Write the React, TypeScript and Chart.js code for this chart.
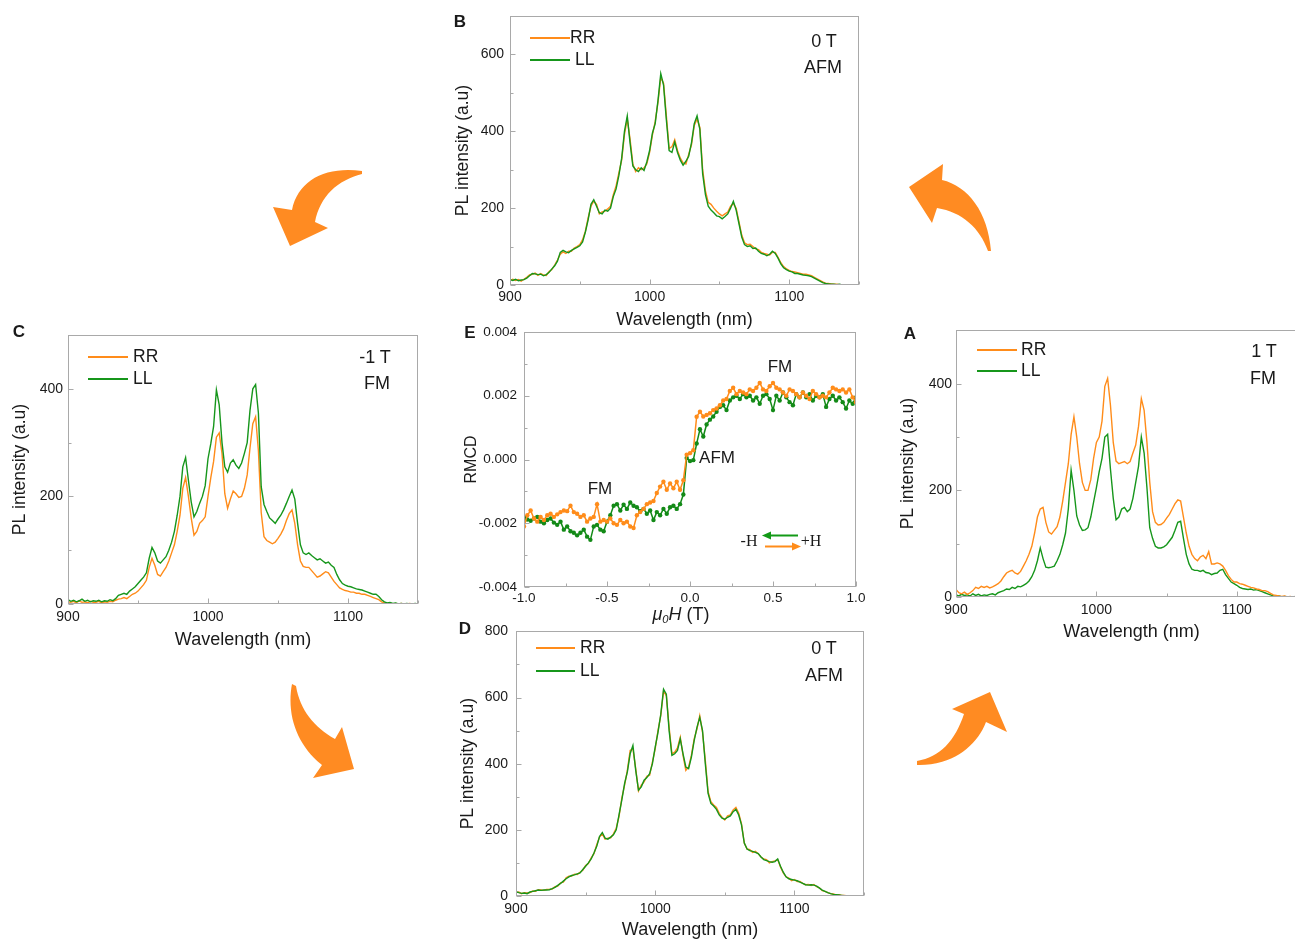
import React, { useEffect, useRef } from 'react';
import { Chart, registerables } from 'chart.js';

Chart.register(...registerables);

const FONT = '"Liberation Sans", Arial, Helvetica, sans-serif';
const SERIF = '"Liberation Serif", "Times New Roman", serif';
const ORANGE = '#ff8c1a';
const GREEN = '#16961b';
const ARROW_ORANGE = '#ff8b22';
const FRAME = '#a9a9a9';
const TEXT = '#1a1a1a';

// ---------- data ----------
const WAVELENGTH_NM = [
  900, 902, 904, 906, 908, 910, 912, 914, 916, 918,
  920, 922, 924, 926, 928, 930, 932, 934, 936, 938,
  940, 942, 944, 946, 948, 950, 952, 954, 956, 958,
  960, 962, 964, 966, 968, 970, 972, 974, 976, 978,
  980, 982, 984, 986, 988, 990, 992, 994, 996, 998,
  1000, 1002, 1004, 1006, 1008, 1010, 1012, 1014, 1016, 1018,
  1020, 1022, 1024, 1026, 1028, 1030, 1032, 1034, 1036, 1038,
  1040, 1042, 1044, 1046, 1048, 1050, 1052, 1054, 1056, 1058,
  1060, 1062, 1064, 1066, 1068, 1070, 1072, 1074, 1076, 1078,
  1080, 1082, 1084, 1086, 1088, 1090, 1092, 1094, 1096, 1098,
  1100, 1102, 1104, 1106, 1108, 1110, 1112, 1114, 1116, 1118,
  1120, 1122, 1124, 1126, 1128, 1130, 1132, 1134, 1136, 1138,
  1140, 1142, 1144, 1146, 1148, 1150,
];

// Panel B: 0 T, AFM
const B_RR = [
  12, 15, 12, 14, 10, 15, 20, 26, 28, 31,
  25, 30, 26, 25, 35, 40, 52, 65, 80, 86,
  82, 88, 88, 96, 100, 105, 118, 140, 175, 205,
  218, 210, 185, 190, 192, 198, 205, 235, 258, 292,
  325, 392, 432, 380, 315, 295, 305, 300, 305, 315,
  345, 390, 425, 475, 540, 525, 440, 355, 360, 378,
  350, 330, 318, 315, 340, 365, 415, 432, 410, 300,
  245, 215, 210, 200, 192, 185, 180, 185, 190, 205,
  212, 200, 165, 130, 110, 105, 106, 100, 94, 92,
  85, 82, 80, 78, 85, 85, 72, 58, 48, 42,
  38, 35, 34, 32, 30, 28, 28, 26, 24, 20,
  16, 12, 8, 5, 4, 3, 2, 2, 1, 1,
  0, 1, 0, 0, 1, 0,
];
const B_LL = [
  14, 12, 15, 11, 13, 14, 18, 24, 30, 29,
  27, 28, 24, 27, 33, 42, 50, 62, 85, 90,
  86, 84, 90, 94, 98, 102, 112, 138, 170, 210,
  222, 205, 188, 185, 195, 192, 200, 230, 250, 285,
  330, 400, 440, 370, 310, 300, 295, 305, 298, 320,
  350, 395, 420, 480, 550, 520, 430, 350, 345, 372,
  345, 325, 312, 322, 335, 370, 420, 440, 405, 290,
  235, 205, 195, 188, 180, 178, 172, 178, 185, 200,
  218, 195, 160, 125, 105, 100, 102, 95, 96, 88,
  82, 80, 76, 80, 88, 82, 70, 55, 45, 40,
  36, 34, 30, 30, 28, 26, 25, 24, 22, 18,
  14, 10, 6, 4, 3, 2, 2, 1, 2, 0,
  1, 0, 1, 0, 0, 0,
];

// Panel C: -1 T, FM
const C_RR = [
  4, 3, 5, 2, 6, 3, 4, 2, 5, 3,
  3, 5, 2, 4, 3, 5, 4, 7, 9, 10,
  12, 10, 14, 18, 20, 24, 30, 36, 44, 68,
  85, 72, 55, 52, 60, 68, 80, 95, 110, 135,
  165, 215, 235, 200, 160, 128, 135, 150, 155, 162,
  200, 235, 265, 310, 318, 280, 205, 178, 195, 210,
  205, 198, 200, 215, 240, 290, 335, 348, 285, 170,
  125, 118, 115, 112, 115, 122, 130, 140, 155, 168,
  175, 150, 110, 80, 70, 68, 68, 62, 56, 50,
  52, 56, 60, 58, 50, 42, 36, 30, 27, 25,
  24, 22, 22, 20, 20, 18, 18, 16, 14, 12,
  10, 8, 4, 2, 1, 2, 0, 1, 0, 1,
  0, 0, 1, 0, 0, 0,
];
const C_LL = [
  8, 5, 7, 4, 6, 9, 5, 7, 4, 6,
  5, 7, 4, 6, 5, 8, 6, 10, 16, 18,
  20, 18, 24, 28, 32, 38, 44, 50, 58, 85,
  105, 95, 80, 76, 82, 88, 100, 115, 135, 165,
  200, 255, 272, 230, 190, 162, 172, 187, 200, 220,
  270, 298, 330, 398, 370, 300, 255, 245, 262, 268,
  258, 252, 262, 280, 300, 360, 400, 408, 355, 218,
  185, 172, 160, 155, 150, 158, 165, 175, 187, 200,
  212, 195, 150, 110, 95, 92, 95, 90, 86, 82,
  84, 80, 76, 78, 72, 68, 55, 45, 38, 35,
  33, 32, 30, 28, 27, 26, 24, 22, 20, 18,
  18, 14, 8, 4, 2, 3, 1, 2, 0, 1,
  0, 1, 0, 0, 1, 0,
];

// Panel A: 1 T, FM
const A_RR = [
  14, 8, 6, 9, 5, 8, 12, 18, 16, 20,
  18, 20, 17, 19, 22, 25, 30, 38, 45, 48,
  50, 45, 43, 48, 58, 68, 80, 95, 120, 150,
  165, 168, 140, 122, 118, 125, 132, 150, 180, 215,
  250, 305, 338, 300, 250, 215, 200, 200, 220, 260,
  290, 300, 330, 395, 410, 360, 290, 255, 250, 252,
  254, 250, 254, 270, 285, 320, 372, 350, 290, 215,
  160, 140, 135, 136, 140, 148, 155, 165, 175, 182,
  180, 150, 120, 95, 80, 72, 68, 75, 78, 72,
  85, 62, 62, 64, 62, 58, 50, 40, 33, 28,
  28, 25, 24, 22, 20, 18, 17, 15, 14, 12,
  12, 10, 7, 4, 3, 2, 1, 2, 0, 1,
  0, 1, 0, 0, 0, 0,
];
const A_LL = [
  4, 2, 5, 3, 4, 2, 6, 3, 5, 2,
  4, 3, 5, 6, 4, 8, 10, 12, 15, 14,
  18, 16, 20, 19, 22, 25, 30, 38, 50, 68,
  92, 72, 56, 55, 56, 58, 68, 80, 98, 120,
  165, 238, 200, 152, 135, 125, 126, 130, 150, 178,
  205, 235, 260, 300, 305, 240, 185, 145, 150, 165,
  168, 160, 165, 185, 215, 245, 300, 270, 205, 130,
  110, 95, 92, 92, 94, 98, 105, 112, 125, 140,
  142, 110, 80, 62, 52, 50, 50, 48, 50, 46,
  45, 42, 44, 45, 50, 52, 42, 35, 28, 25,
  22, 18, 16, 15, 14, 15, 13, 14, 12, 10,
  8, 6, 4, 2, 1, 2, 0, 1, 0, 0,
  0, 1, 0, 0, 0, 0,
];

// Panel D: 0 T, AFM
const D_RR = [
  10, 12, 7, 10, 9, 10, 15, 14, 19, 18,
  17, 20, 20, 21, 28, 30, 40, 42, 55, 60,
  60, 66, 65, 72, 78, 92, 98, 115, 128, 155,
  178, 188, 172, 175, 176, 188, 205, 240, 295, 335,
  380, 440, 445, 385, 318, 335, 345, 362, 365, 405,
  445, 500, 545, 620, 605, 510, 430, 435, 448, 480,
  425, 380, 390, 425, 475, 505, 545, 495, 410, 315,
  285, 275, 268, 250, 238, 230, 242, 245, 260, 268,
  250, 218, 160, 142, 140, 132, 135, 128, 118, 112,
  110, 100, 104, 106, 110, 88, 70, 58, 54, 46,
  50, 44, 44, 38, 34, 35, 32, 35, 28, 25,
  16, 14, 10, 7, 6, 3, 4, 2, 2, 0,
  0, 1, 0, 0, 0, 0,
];
const D_LL = [
  13, 10, 8, 9, 7, 12, 14, 16, 18, 17,
  18, 18, 19, 22, 26, 32, 38, 45, 52, 58,
  62, 64, 67, 70, 80, 90, 100, 112, 130, 150,
  180, 192, 175, 172, 178, 185, 200, 245, 290, 340,
  375, 430, 455, 380, 320, 330, 350, 358, 370, 400,
  450, 495, 549, 625, 610, 500, 425, 430, 440, 475,
  430, 390, 385, 420, 470, 510, 540, 500, 400, 310,
  280, 272, 262, 245, 235, 232, 238, 242, 255, 262,
  245, 215, 160, 142, 137, 135, 132, 128, 118, 110,
  107, 104, 102, 104, 112, 90, 72, 58, 52, 50,
  48, 46, 42, 38, 34, 33, 34, 33, 30, 24,
  18, 14, 10, 7, 5, 4, 3, 2, 1, 1,
  1, 0, 0, 1, 0, 0,
];

// Panel E: RMCD vs field
const RMCD_FIELD_T = [
  -1.0, -0.98, -0.96, -0.94, -0.92, -0.9, -0.88, -0.86, -0.84, -0.82,
  -0.8, -0.78, -0.76, -0.74, -0.72, -0.7, -0.68, -0.66, -0.64, -0.62,
  -0.6, -0.58, -0.56, -0.54, -0.52, -0.5, -0.48, -0.46, -0.44, -0.42,
  -0.4, -0.38, -0.36, -0.34, -0.32, -0.3, -0.28, -0.26, -0.24, -0.22,
  -0.2, -0.18, -0.16, -0.14, -0.12, -0.1, -0.08, -0.06, -0.04, -0.02,
  0.0, 0.02, 0.04, 0.06, 0.08, 0.1, 0.12, 0.14, 0.16, 0.18,
  0.2, 0.22, 0.24, 0.26, 0.28, 0.3, 0.32, 0.34, 0.36, 0.38,
  0.4, 0.42, 0.44, 0.46, 0.48, 0.5, 0.52, 0.54, 0.56, 0.58,
  0.6, 0.62, 0.64, 0.66, 0.68, 0.7, 0.72, 0.74, 0.76, 0.78,
  0.8, 0.82, 0.84, 0.86, 0.88, 0.9, 0.92, 0.94, 0.96, 0.98,
  1.0,
];
const RMCD_SWEEP_DOWN = [
  -0.0018, -0.00188, -0.00192, -0.00185, -0.0018, -0.00195, -0.002, -0.0019, -0.00185, -0.00198,
  -0.00205, -0.00195, -0.0022, -0.0021, -0.00225, -0.0023, -0.00238, -0.0023, -0.0022, -0.00242,
  -0.00252, -0.0021, -0.00205, -0.0022, -0.00225, -0.00195, -0.00175, -0.00145, -0.0014, -0.0016,
  -0.00142, -0.00155, -0.00135, -0.00145, -0.0015, -0.00162, -0.00155, -0.0017, -0.0016, -0.0019,
  -0.00165, -0.00175, -0.00155, -0.0017, -0.0015, -0.00145, -0.00155, -0.0014, -0.0011, 0.00005,
  -0.00005, -0.00002, 0.0005, 0.00095, 0.00072, 0.0011, 0.00125, 0.00135, 0.0015, 0.00165,
  0.0017, 0.00155, 0.00185, 0.00195, 0.002, 0.0019, 0.00205, 0.00195, 0.002, 0.00185,
  0.00195, 0.00175, 0.002, 0.00205, 0.0019, 0.00155, 0.002, 0.00185, 0.0021, 0.00195,
  0.0018, 0.0017, 0.00205, 0.00195, 0.0021, 0.00195, 0.00205, 0.00185, 0.002, 0.00195,
  0.00205, 0.00165, 0.0019, 0.002, 0.00185, 0.00195, 0.0018, 0.0016, 0.00185, 0.00175,
  0.00195,
];
const RMCD_SWEEP_UP = [
  -0.0021, -0.00175, -0.0016, -0.00185, -0.00195, -0.0018, -0.0019, -0.00175, -0.0017, -0.0018,
  -0.00172, -0.00165, -0.0016, -0.00162, -0.00145, -0.00165, -0.0017, -0.0018, -0.00175, -0.00195,
  -0.00185, -0.0018, -0.0014, -0.00195, -0.0019, -0.00195, -0.00185, -0.002, -0.00205, -0.0019,
  -0.002, -0.00195, -0.0021, -0.00215, -0.00175, -0.00165, -0.00155, -0.0014, -0.00135, -0.0013,
  -0.00105, -0.00085, -0.0007, -0.00095, -0.00075, -0.0009, -0.0007, -0.00095, -0.00065, 0.00015,
  0.0002, 0.00029, 0.00134, 0.0015, 0.00135, 0.0014, 0.00145, 0.00155, 0.0016, 0.0017,
  0.00185, 0.0019, 0.00215, 0.00225, 0.00205, 0.00215, 0.0021, 0.00205, 0.0022, 0.00215,
  0.00225, 0.0024, 0.0022, 0.00215, 0.0023, 0.0024, 0.00225, 0.0022, 0.0021, 0.002,
  0.0022, 0.00215, 0.00205, 0.00195, 0.0021, 0.002, 0.0019, 0.00215, 0.00205, 0.00195,
  0.002, 0.00195, 0.0021, 0.00225, 0.0022, 0.00215, 0.0022, 0.0021, 0.0022, 0.00195,
  0.0018,
];

// ---------- tick labels ----------
const WL_TICK_LABELS = [900, 1000, 1100];
const PL_TICK_LABELS_B = [0, 200, 400, 600];
const PL_TICK_LABELS_CA = [0, 200, 400];
const PL_TICK_LABELS_D = [0, 200, 400, 600, 800];
const FIELD_TICK_LABELS = [-1.0, -0.5, 0.0, 0.5, 1.0];
const RMCD_TICK_LABELS = [-0.004, -0.002, 0.0, 0.002, 0.004];

// ---------- frame + inward ticks ----------
const framePlugin = {
  id: 'frameTicks',
  afterDraw(chart: any) {
    const { ctx, chartArea } = chart;
    const l = Math.round(chartArea.left) + 0.5;
    const t = Math.round(chartArea.top) + 0.5;
    const r = Math.round(chartArea.right) - 0.5;
    const b = Math.round(chartArea.bottom) - 0.5;
    ctx.save();
    ctx.strokeStyle = FRAME;
    ctx.lineWidth = 1;
    ctx.strokeRect(l, t, r - l, b - t);
    ctx.beginPath();
    const xs = chart.scales.x;
    const ys = chart.scales.y;
    xs.ticks.forEach((tk: any) => {
      const px = Math.round(xs.getPixelForValue(tk.value)) + 0.5;
      const len = tk.label !== '' ? 5 : 3;
      ctx.moveTo(px, b);
      ctx.lineTo(px, b - len);
    });
    ys.ticks.forEach((tk: any) => {
      const py = Math.round(ys.getPixelForValue(tk.value)) + 0.5;
      const len = tk.label !== '' ? 5 : 3;
      ctx.moveTo(l, py);
      ctx.lineTo(l + len, py);
    });
    ctx.stroke();
    ctx.restore();
  },
};

type Rect = { left: number; top: number; width: number; height: number };
type Plot = { left: number; top: number; right: number; bottom: number };

type AxisOpt = {
  min: number;
  max: number;
  step: number;
  labels: number[];
  fmt: (v: number) => string;
  tickPad: number;
  title?: string;
  titleSize?: number;
  titlePad?: number;
};

type ChartOpt = {
  canvas: Rect;
  plot: Plot;
  datasets: any[];
  x: AxisOpt;
  y: AxisOpt;
  tickSize: number;
};

const isLabelled = (arr: number[], v: number) => arr.some((l) => Math.abs(l - v) < 1e-9);

function buildConfig(o: ChartOpt): any {
  const padTop = o.plot.top - o.canvas.top;
  const padRight = o.canvas.left + o.canvas.width - o.plot.right;
  const yWidth = o.plot.left - o.canvas.left;
  const xHeight = o.canvas.top + o.canvas.height - o.plot.bottom;
  const tickFont = { family: FONT, size: o.tickSize, lineHeight: 1.2 };
  const axis = (a: AxisOpt, isX: boolean) => ({
    type: 'linear',
    position: isX ? 'bottom' : 'left',
    min: a.min,
    max: a.max,
    grid: { display: false, drawTicks: false, tickLength: 0 },
    border: { display: false },
    ticks: {
      stepSize: a.step,
      autoSkip: false,
      maxRotation: 0,
      minRotation: 0,
      padding: a.tickPad,
      font: tickFont,
      color: TEXT,
      callback: (v: number) => (isLabelled(a.labels, v) ? a.fmt(v) : ''),
    },
    title: a.title
      ? {
          display: true,
          text: a.title,
          color: TEXT,
          font: { family: FONT, size: a.titleSize || 18, lineHeight: 1 },
          padding: { top: a.titlePad || 0, bottom: 0 },
        }
      : { display: false },
    afterFit: (s: any) => {
      if (isX) s.height = xHeight;
      else s.width = yWidth;
    },
  });
  return {
    type: 'line',
    data: { datasets: o.datasets },
    options: {
      animation: false,
      responsive: false,
      maintainAspectRatio: false,
      events: [],
      layout: { padding: { left: 0, top: padTop, right: padRight, bottom: 0 } },
      plugins: { legend: { display: false }, tooltip: { enabled: false }, title: { display: false } },
      scales: { x: axis(o.x, true), y: axis(o.y, false) },
    },
    plugins: [framePlugin],
  };
}

function spectrumDatasets(rr: number[], ll: number[], llOnTop: boolean) {
  const mk = (vals: number[], color: string, label: string) => ({
    label,
    data: WAVELENGTH_NM.map((x, i) => ({ x, y: vals[i] })),
    borderColor: color,
    backgroundColor: color,
    borderWidth: 1.4,
    pointRadius: 0,
    tension: 0,
    fill: false,
  });
  const r = mk(rr, ORANGE, 'RR');
  const l = mk(ll, GREEN, 'LL');
  // dataset 0 is drawn last (on top)
  return llOnTop ? [l, r] : [r, l];
}

const wlAxis = (tickPad: number): AxisOpt => ({
  min: 900,
  max: 1150,
  step: 50,
  labels: WL_TICK_LABELS,
  fmt: (v) => String(v),
  tickPad,
  title: 'Wavelength (nm)',
  titleSize: 18,
});

const plAxis = (max: number, labels: number[], tickPad: number, titlePad: number): AxisOpt => ({
  min: 0,
  max,
  step: 100,
  labels,
  fmt: (v) => String(v),
  tickPad,
  title: 'PL intensity (a.u)',
  titleSize: 17.5,
  titlePad,
});

const CHARTS: ChartOpt[] = [
  {
    canvas: { left: 440, top: 0, width: 440, height: 329 },
    plot: { left: 510, top: 16, right: 859, bottom: 285 },
    datasets: spectrumDatasets(B_RR, B_LL, true),
    x: wlAxis(3.6),
    y: plAxis(700, PL_TICK_LABELS_B, 6, 14),
    tickSize: 14,
  },
  {
    canvas: { left: 0, top: 320, width: 440, height: 329 },
    plot: { left: 68, top: 335, right: 418, bottom: 604 },
    datasets: spectrumDatasets(C_RR, C_LL, true),
    x: wlAxis(4.3),
    y: plAxis(500, PL_TICK_LABELS_CA, 5, 11),
    tickSize: 14,
  },
  {
    canvas: { left: 890, top: 318, width: 440, height: 323 },
    plot: { left: 956, top: 328, right: 1307, bottom: 597 },
    datasets: spectrumDatasets(A_RR, A_LL, false),
    x: wlAxis(4.6),
    y: plAxis(500, PL_TICK_LABELS_CA, 4, 9),
    tickSize: 14,
  },
  {
    canvas: { left: 440, top: 615, width: 440, height: 324 },
    plot: { left: 516, top: 627, right: 864, bottom: 896 },
    datasets: spectrumDatasets(D_RR, D_LL, true),
    x: wlAxis(4.6),
    y: plAxis(800, PL_TICK_LABELS_D, 8, 19),
    tickSize: 14,
  },
  {
    canvas: { left: 440, top: 315, width: 440, height: 297 },
    plot: { left: 524, top: 332, right: 856, bottom: 587 },
    datasets: [
      {
        label: '+H',
        data: RMCD_FIELD_T.map((x, i) => ({ x, y: RMCD_SWEEP_UP[i] })),
        borderColor: ORANGE,
        backgroundColor: ORANGE,
        borderWidth: 1.5,
        pointRadius: 2.2,
        pointBorderWidth: 0,
        pointBackgroundColor: ORANGE,
        tension: 0,
      },
      {
        label: '-H',
        data: RMCD_FIELD_T.map((x, i) => ({ x, y: RMCD_SWEEP_DOWN[i] })),
        borderColor: '#138a17',
        backgroundColor: '#138a17',
        borderWidth: 1.5,
        pointRadius: 2.2,
        pointBorderWidth: 0,
        pointBackgroundColor: '#138a17',
        tension: 0,
      },
    ],
    x: {
      min: -1,
      max: 1,
      step: 0.25,
      labels: FIELD_TICK_LABELS,
      fmt: (v) => (Math.abs(v) < 1e-9 ? '0.0' : v.toFixed(1)),
      tickPad: 3,
    },
    y: {
      min: -0.004,
      max: 0.004,
      step: 0.001,
      labels: RMCD_TICK_LABELS,
      fmt: (v) => (Math.abs(v) < 1e-9 ? '0.000' : v.toFixed(3)),
      tickPad: 7,
      title: 'RMCD',
      titleSize: 16,
      titlePad: 24,
    },
    tickSize: 13.5,
  },
];

function ChartCanvas({ opt }: { opt: ChartOpt }) {
  const ref = useRef<HTMLCanvasElement>(null);
  useEffect(() => {
    if (!ref.current) return;
    const chart = new Chart(ref.current, buildConfig(opt));
    return () => chart.destroy();
  }, [opt]);
  const c = opt.canvas;
  return (
    <canvas
      ref={ref}
      width={c.width}
      height={c.height}
      style={{ position: 'absolute', left: c.left, top: c.top, width: c.width, height: c.height }}
    />
  );
}

// ---------- overlay text ----------
type Txt = { t: string; x: number; y: number; size: number; bold?: boolean; anchor?: 'center' | 'left' };
const TEXTS: Txt[] = [
  { t: 'B', x: 460, y: 21, size: 17, bold: true },
  { t: 'C', x: 19, y: 331, size: 17, bold: true },
  { t: 'E', x: 470, y: 332, size: 17, bold: true },
  { t: 'A', x: 910, y: 333, size: 17, bold: true },
  { t: 'D', x: 465, y: 628, size: 17, bold: true },
  { t: '0 T', x: 824, y: 41, size: 18 },
  { t: 'AFM', x: 823, y: 67, size: 18 },
  { t: '-1 T', x: 375, y: 357, size: 18 },
  { t: 'FM', x: 377, y: 383, size: 18 },
  { t: '1 T', x: 1264, y: 351, size: 18 },
  { t: 'FM', x: 1263, y: 378, size: 18 },
  { t: '0 T', x: 824, y: 648, size: 18 },
  { t: 'AFM', x: 824, y: 675, size: 18 },
  { t: 'FM', x: 780, y: 366, size: 17 },
  { t: 'AFM', x: 717, y: 457, size: 17 },
  { t: 'FM', x: 600, y: 488, size: 17 },
];

type Leg = { x1: number; x2: number; y: number; tx: number; label: string; color: string };
const LEGENDS: Leg[] = [
  { x1: 530, x2: 570, y: 38, tx: 570, label: 'RR', color: ORANGE },
  { x1: 530, x2: 570, y: 60, tx: 575, label: 'LL', color: GREEN },
  { x1: 88, x2: 128, y: 357, tx: 133, label: 'RR', color: ORANGE },
  { x1: 88, x2: 128, y: 379, tx: 133, label: 'LL', color: GREEN },
  { x1: 977, x2: 1017, y: 350, tx: 1021, label: 'RR', color: ORANGE },
  { x1: 977, x2: 1017, y: 371, tx: 1021, label: 'LL', color: GREEN },
  { x1: 536, x2: 575, y: 648, tx: 580, label: 'RR', color: ORANGE },
  { x1: 536, x2: 575, y: 671, tx: 580, label: 'LL', color: GREEN },
];

function Text({ t, x, y, size, bold, anchor }: Txt) {
  return (
    <div
      style={{
        position: 'absolute',
        left: x,
        top: y,
        transform: anchor === 'left' ? 'translateY(-50%)' : 'translate(-50%, -50%)',
        fontFamily: FONT,
        fontSize: size,
        fontWeight: bold ? 700 : 400,
        lineHeight: 1,
        color: TEXT,
        whiteSpace: 'nowrap',
      }}
    >
      {t}
    </div>
  );
}

export default function App() {
  return (
    <div
      style={{
        position: 'absolute',
        left: 0,
        top: 0,
        width: 1295,
        height: 939,
        overflow: 'hidden',
        background: '#ffffff',
      }}
    >
      {CHARTS.map((c, i) => (
        <ChartCanvas key={i} opt={c} />
      ))}
      <svg
        width={1295}
        height={939}
        style={{ position: 'absolute', left: 0, top: 0, pointerEvents: 'none' }}
      >
        {/* decorative curved arrows between panels */}
        <path
          d="M 362 171 C 326 166, 298 180, 292 210 L 273 207 L 290 246 L 328 228 L 315 222 C 320 196, 338 180, 362 174 Z"
          fill={ARROW_ORANGE}
        />
        <path
          d="M 991 251 C 988 212, 968 186, 942 180 L 943 164 L 909 187 L 932 223 L 937 208 C 962 212, 980 228, 988 251 Z"
          fill={ARROW_ORANGE}
        />
        <path
          d="M 292 684 C 286 716, 298 746, 322 765 L 313 778 L 354 769 L 342 727 L 335 739 C 314 727, 300 710, 296 686 Z"
          fill={ARROW_ORANGE}
        />
        <path
          d="M 917 765 C 952 766, 977 746, 986 722 L 1007 732 L 990 692 L 952 709 L 964 714 C 955 741, 940 757, 917 761 Z"
          fill={ARROW_ORANGE}
        />
        {/* -H / +H sweep arrows in panel E */}
        <line x1={798} y1={535.5} x2={769} y2={535.5} stroke="#139a17" strokeWidth={2} />
        <polygon points="762,535.5 771,531.5 771,539.5" fill="#139a17" />
        <line x1={765} y1={546.5} x2={794} y2={546.5} stroke={ORANGE} strokeWidth={2} />
        <polygon points="801,546.5 792,542.5 792,550.5" fill={ORANGE} />
      </svg>
      {TEXTS.map((t, i) => (
        <Text key={i} {...t} />
      ))}
      {LEGENDS.map((l, i) => (
        <React.Fragment key={'lg' + i}>
          <div
            style={{
              position: 'absolute',
              left: l.x1,
              top: l.y - 1,
              width: l.x2 - l.x1,
              height: 2,
              background: l.color,
            }}
          />
          <Text t={l.label} x={l.tx} y={l.y} size={17.5} anchor="left" />
        </React.Fragment>
      ))}
      <div
        style={{
          position: 'absolute',
          left: 749,
          top: 541,
          transform: 'translate(-50%, -50%)',
          fontFamily: SERIF,
          fontSize: 16,
          lineHeight: 1,
          color: TEXT,
        }}
      >
        -H
      </div>
      <div
        style={{
          position: 'absolute',
          left: 811,
          top: 541,
          transform: 'translate(-50%, -50%)',
          fontFamily: SERIF,
          fontSize: 16,
          lineHeight: 1,
          color: TEXT,
        }}
      >
        +H
      </div>
      <div
        style={{
          position: 'absolute',
          left: 681,
          top: 615,
          transform: 'translate(-50%, -50%)',
          fontFamily: FONT,
          fontSize: 18,
          lineHeight: 1,
          color: TEXT,
          whiteSpace: 'nowrap',
        }}
      >
        <span style={{ fontStyle: 'italic' }}>
          μ<span style={{ fontSize: '0.62em', verticalAlign: '-0.3em' }}>0</span>H
        </span>{' '}
        (T)
      </div>
    </div>
  );
}
